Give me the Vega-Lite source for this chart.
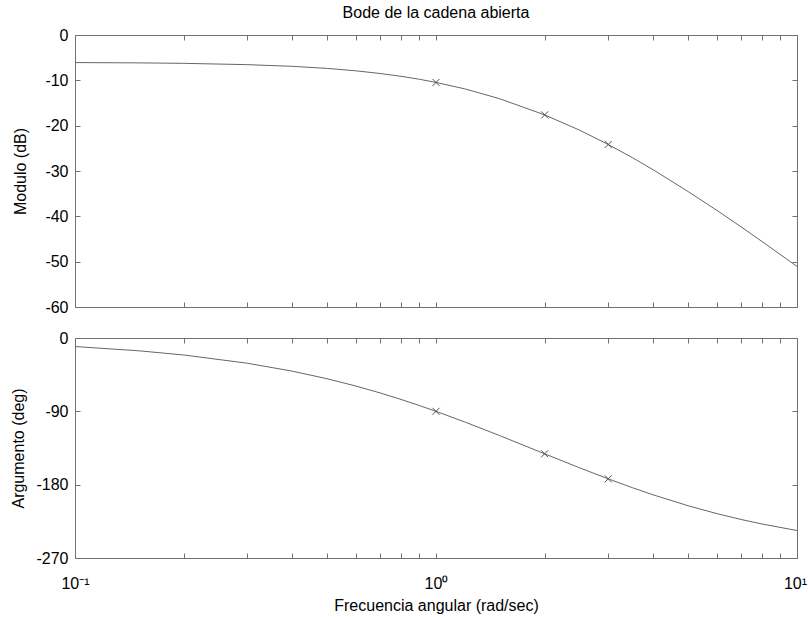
{
  "$schema": "https://vega.github.io/schema/vega-lite/v6.json",
  "padding": {"left": 9, "top": 4, "right": 0, "bottom": 2},
  "datasets": {
    "bode": [
      {"w": 0.1, "mag": -6.08, "phase": -10.48},
      {"w": 0.15, "mag": -6.15, "phase": -15.68},
      {"w": 0.2, "mag": -6.25, "phase": -20.83},
      {"w": 0.3, "mag": -6.54, "phase": -30.94},
      {"w": 0.4, "mag": -6.91, "phase": -40.71},
      {"w": 0.5, "mag": -7.37, "phase": -50.06},
      {"w": 0.6, "mag": -7.90, "phase": -58.97},
      {"w": 0.7, "mag": -8.49, "phase": -67.42},
      {"w": 0.8, "mag": -9.11, "phase": -75.39},
      {"w": 0.9, "mag": -9.77, "phase": -82.91},
      {"w": 1, "mag": -10.46, "phase": -90.0},
      {"w": 1.2, "mag": -11.87, "phase": -102.96},
      {"w": 1.5, "mag": -14.05, "phase": -119.75},
      {"w": 2, "mag": -17.62, "phase": -142.13},
      {"w": 2.5, "mag": -21.00, "phase": -159.34},
      {"w": 3, "mag": -24.15, "phase": -172.87},
      {"w": 3.5, "mag": -27.06, "phase": -183.71},
      {"w": 4, "mag": -29.75, "phase": -192.53},
      {"w": 5, "mag": -34.55, "phase": -205.93},
      {"w": 6, "mag": -38.69, "phase": -215.54},
      {"w": 7, "mag": -42.32, "phase": -222.73},
      {"w": 8, "mag": -45.55, "phase": -228.28},
      {"w": 10, "mag": -51.05, "phase": -236.28}
    ],
    "marcas": [
      {"w": 1, "mag": -10.46, "phase": -90.0},
      {"w": 2, "mag": -17.62, "phase": -142.13},
      {"w": 3, "mag": -24.15, "phase": -172.87}
    ]
  },
  "config": {
    "font": "Liberation Sans",
    "view": {"stroke": "#707070", "strokeWidth": 1},
    "axis": {
      "grid": false,
      "domain": false,
      "tickColor": "#707070",
      "tickWidth": 1,
      "labelFont": "Liberation Sans",
      "labelFontSize": 16,
      "labelColor": "#000000",
      "labelFlush": false,
      "labelOverlap": false,
      "titleFont": "Liberation Sans",
      "titleFontSize": 16,
      "titleFontWeight": "normal",
      "titleColor": "#000000"
    }
  },
  "spacing": 31,
  "bounds": "flush",
  "vconcat": [
    {
      "width": 722,
      "height": 272,
      "title": {"text": "Bode de la cadena abierta", "fontSize": 16, "fontWeight": "normal", "font": "Liberation Sans", "color": "#000000", "anchor": "middle", "offset": 6},
      "layer": [
        {
          "data": {"name": "bode"},
          "mark": {"type": "line", "color": "#666666", "strokeWidth": 1},
          "encoding": {
            "x": {"field": "w", "type": "quantitative",
              "scale": {"type": "log", "domain": [0.1, 10]},
              "axis": {"orient": "bottom", "title": null, "labels": false, "tickSize": -5,
                "values": [0.1,0.2,0.3,0.4,0.5,0.6,0.7,0.8,0.9,1,2,3,4,5,6,7,8,9,10]}},
            "y": {"field": "mag", "type": "quantitative",
              "scale": {"domain": [-60, 0], "nice": false, "zero": false},
              "axis": {"orient": "left", "title": "Modulo (dB)", "tickSize": -5, "labelPadding": 12,
                "labelExpr": "datum.value + ''",
                "values": [0,-10,-20,-30,-40,-50,-60], "titleX": -55, "titleBaseline": "middle"}}
          }
        },
        {
          "data": {"name": "marcas"},
          "mark": {"type": "point", "shape": "M-1,-1L1,1M-1,1L1,-1", "filled": false, "size": 49, "color": "#505050", "strokeWidth": 1, "opacity": 1},
          "encoding": {
            "x": {"field": "w", "type": "quantitative",
              "scale": {"type": "log", "domain": [0.1, 10]},
              "axis": {"orient": "top", "title": null, "labels": false, "tickSize": -5,
                "values": [0.1,0.2,0.3,0.4,0.5,0.6,0.7,0.8,0.9,1,2,3,4,5,6,7,8,9,10]}},
            "y": {"field": "mag", "type": "quantitative",
              "scale": {"domain": [-60, 0], "nice": false, "zero": false},
              "axis": {"orient": "right", "title": null, "labels": false, "tickSize": -5,
                "values": [0,-10,-20,-30,-40,-50,-60]}}
          }
        }
      ],
      "resolve": {"axis": {"x": "independent", "y": "independent"}}
    },
    {
      "width": 722,
      "height": 220,
      "layer": [
        {
          "data": {"name": "bode"},
          "mark": {"type": "line", "color": "#666666", "strokeWidth": 1},
          "encoding": {
            "x": {"field": "w", "type": "quantitative",
              "scale": {"type": "log", "domain": [0.1, 10]},
              "axis": {"orient": "bottom", "title": "Frecuencia angular (rad/sec)", "tickSize": -5, "labelPadding": 22, "titlePadding": 6,
                "labelOffset": {"condition": {"test": "datum.value == 10", "value": -2}, "value": 0},
                "labelExpr": "datum.value == 0.1 ? '10⁻¹' : datum.value == 1 ? '10⁰' : datum.value == 10 ? '10¹' : ''",
                "values": [0.1,0.2,0.3,0.4,0.5,0.6,0.7,0.8,0.9,1,2,3,4,5,6,7,8,9,10]}},
            "y": {"field": "phase", "type": "quantitative",
              "scale": {"domain": [-270, 0], "nice": false, "zero": false},
              "axis": {"orient": "left", "title": "Argumento (deg)", "tickSize": -5, "labelPadding": 12,
                "labelExpr": "datum.value + ''",
                "values": [0,-90,-180,-270], "titleX": -57, "titleBaseline": "middle"}}
          }
        },
        {
          "data": {"name": "marcas"},
          "mark": {"type": "point", "shape": "M-1,-1L1,1M-1,1L1,-1", "filled": false, "size": 49, "color": "#505050", "strokeWidth": 1, "opacity": 1},
          "encoding": {
            "x": {"field": "w", "type": "quantitative",
              "scale": {"type": "log", "domain": [0.1, 10]},
              "axis": {"orient": "top", "title": null, "labels": false, "tickSize": -5,
                "values": [0.1,0.2,0.3,0.4,0.5,0.6,0.7,0.8,0.9,1,2,3,4,5,6,7,8,9,10]}},
            "y": {"field": "phase", "type": "quantitative",
              "scale": {"domain": [-270, 0], "nice": false, "zero": false},
              "axis": {"orient": "right", "title": null, "labels": false, "tickSize": -5,
                "values": [0,-90,-180,-270]}}
          }
        }
      ],
      "resolve": {"axis": {"x": "independent", "y": "independent"}}
    }
  ]
}
